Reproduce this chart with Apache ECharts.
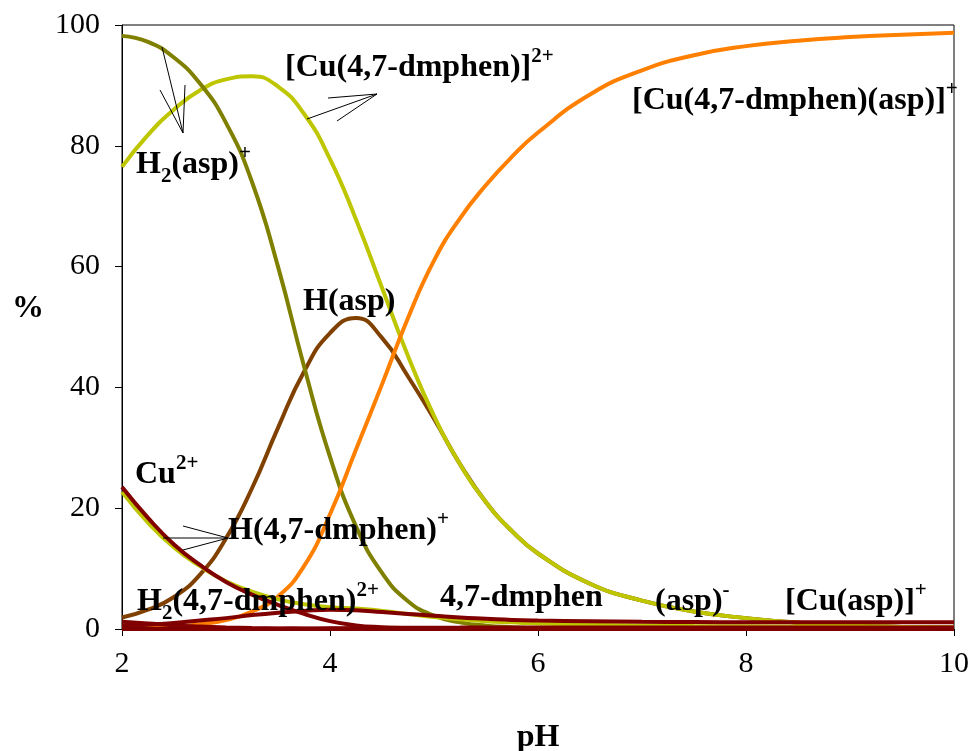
<!DOCTYPE html>
<html>
<head>
<meta charset="utf-8">
<script src="https://cdn.jsdelivr.net/npm/echarts/dist/echarts.min.js"></script>
<style>
  html, body { margin: 0; padding: 0; background: #fff; }
  #chart { width: 973px; height: 751px; }
</style>
</head>
<body>
<div id="chart"></div>
<script>
// pH grid shared by every species curve
const pH = [2, 2.25, 2.5, 2.75, 3, 3.25, 3.5, 3.75, 4, 4.25, 4.5, 4.75, 5, 5.25, 5.5, 5.75, 6, 6.5, 7, 7.5, 8, 8.5, 9, 9.5, 10];

// species distribution, % of total
const H2asp    = [98.2, 97.2, 94.6, 90.3, 83.8, 74.0, 60.0, 43.5, 28.5, 17.0, 9.3, 4.6, 2.2, 1.1, 0.55, 0.3, 0.15, 0.08, 0.04, 0.02, 0.01, 0, 0, 0, 0];
const Hasp     = [1.9, 3.2, 5.3, 9.0, 15.0, 23.3, 33.3, 42.6, 49.0, 51.5, 48.2, 41.8, 34.8, 27.3, 21.0, 16.2, 12.5, 7.5, 4.7, 2.9, 1.8, 1.05, 0.6, 0.35, 0.2];
const CuL      = [76.5, 81.8, 86.0, 89.2, 91.0, 91.5, 89.8, 85.3, 77.8, 67.8, 56.5, 45.2, 35.3, 27.3, 21.0, 16.2, 12.5, 7.5, 4.7, 2.9, 1.8, 1.05, 0.6, 0.35, 0.2];
const CuLasp   = [0.1, 0.2, 0.4, 0.8, 1.5, 2.9, 5.4, 10.4, 19.0, 29.7, 40.5, 51.5, 61.0, 68.0, 73.5, 78.2, 82.2, 88.5, 92.5, 95.0, 96.5, 97.4, 98.0, 98.4, 98.7];
const HL       = [22.7, 17.6, 13.5, 10.4, 7.9, 6.2, 4.9, 4.1, 3.6, 3.4, 3.0, 2.5, 2.0, 1.6, 1.3, 1.1, 0.9, 0.7, 0.6, 0.5, 0.45, 0.4, 0.35, 0.3, 0.3];
const Cu       = [23.5, 18.4, 14.0, 10.6, 7.8, 5.7, 4.0, 2.5, 1.3, 0.6, 0.3, 0.15, 0.08, 0.05, 0.03, 0.02, 0.01, 0, 0, 0, 0, 0, 0, 0, 0];
const CuAsp    = [0.5, 0.7, 1.0, 1.4, 1.8, 2.3, 2.7, 3.0, 3.2, 3.1, 2.8, 2.5, 2.2, 1.9, 1.7, 1.5, 1.4, 1.3, 1.2, 1.15, 1.1, 1.1, 1.1, 1.1, 1.1];
const H2L      = [1.2, 0.9, 0.6, 0.4, 0.25, 0.15, 0.1, 0.05, 0.03, 0.02, 0.01, 0, 0, 0, 0, 0, 0, 0, 0, 0, 0, 0, 0, 0, 0];
const L        = [0, 0, 0, 0, 0.01, 0.02, 0.05, 0.08, 0.12, 0.15, 0.18, 0.2, 0.22, 0.23, 0.24, 0.25, 0.25, 0.25, 0.25, 0.25, 0.25, 0.25, 0.25, 0.25, 0.25];
const asp      = [0, 0, 0, 0, 0, 0, 0, 0, 0, 0, 0, 0, 0, 0, 0, 0, 0.01, 0.03, 0.05, 0.08, 0.1, 0.12, 0.15, 0.18, 0.2];

// axis ticks
const xTicks = { min: 2, max: 10, step: 2 };
const yTicks = { min: 0, max: 100, step: 20 };

const SERIF = '"Liberation Serif", "Times New Roman", serif';
const OLIVE = '#808000', LIME = '#bec600', BROWN = '#804000', ORANGE = '#ff8000', DARKRED = '#800000';

function pairs(ys) { return pH.map((x, i) => [x, ys[i]]); }
function curve(name, ys, color, z) {
  return {
    name, type: 'line', data: pairs(ys), smooth: true, showSymbol: false, z,
    lineStyle: { color, width: 4 }, itemStyle: { color }
  };
}

const chart = echarts.init(document.getElementById('chart'), null, { renderer: 'canvas' });

chart.setOption({
  animation: false,
  backgroundColor: '#fff',
  grid: {
    left: 122, right: 19, top: 25, bottom: 122,
    containLabel: false, outerBoundsMode: 'none',
    show: true, borderColor: '#000', borderWidth: 1
  },
  xAxis: {
    type: 'value', min: xTicks.min, max: xTicks.max, interval: xTicks.step,
    name: 'pH', nameLocation: 'middle', nameGap: 93,
    nameTextStyle: { fontFamily: SERIF, fontWeight: 'bold', fontSize: 32, color: '#000' },
    axisLine: { lineStyle: { color: '#000', width: 1 } },
    axisTick: { show: true, length: 7, lineStyle: { color: '#000' } },
    axisLabel: { fontFamily: SERIF, fontSize: 30, color: '#000', margin: 20 },
    splitLine: { show: false }
  },
  yAxis: {
    type: 'value', min: yTicks.min, max: yTicks.max, interval: yTicks.step,
    axisLine: { lineStyle: { color: '#000', width: 1 } },
    axisTick: { show: true, length: 7, lineStyle: { color: '#000' } },
    axisLabel: { fontFamily: SERIF, fontSize: 30, color: '#000', margin: 22 },
    splitLine: { show: false }
  },
  series: [
    curve('H(asp)', Hasp, BROWN, 2),
    curve('[Cu(4,7-dmphen)]2+', CuL, LIME, 3),
    curve('H2(asp)+', H2asp, OLIVE, 4),
    curve('[Cu(4,7-dmphen)(asp)]+', CuLasp, ORANGE, 5),
    curve('H(4,7-dmphen)+', HL, LIME, 6),
    curve('4,7-dmphen', L, DARKRED, 6),
    curve('(asp)-', asp, DARKRED, 6),
    curve('H2(4,7-dmphen)2+', H2L, DARKRED, 7),
    curve('[Cu(asp)]+', CuAsp, DARKRED, 7),
    curve('Cu2+', Cu, DARKRED, 8)
  ]
});

// ---- species labels with super/subscripts, and pointer arrows ----
const mctx = document.createElement('canvas').getContext('2d');
function textWidth(t, font) { mctx.font = font; return mctx.measureText(t).width; }

const BASE = 32, SMALL = 21;
function richLabel(x, baseline, parts) {
  const out = [];
  let cx = x;
  for (const [t, kind] of parts) {
    const size = kind === 'n' ? BASE : SMALL;
    const font = 'bold ' + size + 'px ' + SERIF;
    const dy = kind === 'sup' ? -15 : (kind === 'sub' ? 8 : 0);
    const yMid = baseline + dy - 0.34 * size;
    out.push({
      type: 'text', x: cx, y: yMid, z: 100,
      style: { text: t, font, fill: '#000', textAlign: 'left', align: 'left', textVerticalAlign: 'middle', verticalAlign: 'middle' }
    });
    cx += textWidth(t, font);
  }
  return out;
}
function arrow(shaft, tip, barbs) {
  const els = [{ type: 'line', z: 100, shape: { x1: shaft[0], y1: shaft[1], x2: tip[0], y2: tip[1] }, style: { stroke: '#000', lineWidth: 1 } }];
  for (const b of barbs) {
    els.push({ type: 'line', z: 100, shape: { x1: b[0], y1: b[1], x2: tip[0], y2: tip[1] }, style: { stroke: '#000', lineWidth: 1 } });
  }
  return els;
}

const graphics = [].concat(
  // y-axis title
  richLabel(12, 320, [['%', 'n']]),
  richLabel(136, 176, [['H', 'n'], ['2', 'sub'], ['(asp)', 'n'], ['+', 'sup']]),
  richLabel(285, 79, [['[Cu(4,7-dmphen)]', 'n'], ['2+', 'sup']]),
  richLabel(632, 112, [['[Cu(4,7-dmphen)(asp)]', 'n'], ['+', 'sup']]),
  richLabel(303, 313, [['H(asp)', 'n']]),
  richLabel(135, 486, [['Cu', 'n'], ['2+', 'sup']]),
  richLabel(228, 542, [['H(4,7-dmphen)', 'n'], ['+', 'sup']]),
  richLabel(137, 613, [['H', 'n'], ['2', 'sub'], ['(4,7-dmphen)', 'n'], ['2+', 'sup']]),
  richLabel(440, 609, [['4,7-dmphen', 'n']]),
  richLabel(655, 613, [['(asp)', 'n'], ['-', 'sup']]),
  richLabel(785, 613, [['[Cu(asp)]', 'n'], ['+', 'sup']]),
  arrow([162, 47], [183, 133], [[160, 90], [185, 85]]),
  arrow([307, 119], [377, 94], [[328, 98], [337, 121]]),
  arrow([163, 538], [228, 538], [[183, 526], [183, 550]])
);

chart.setOption({ graphic: { elements: graphics } });
</script>
</body>
</html>
